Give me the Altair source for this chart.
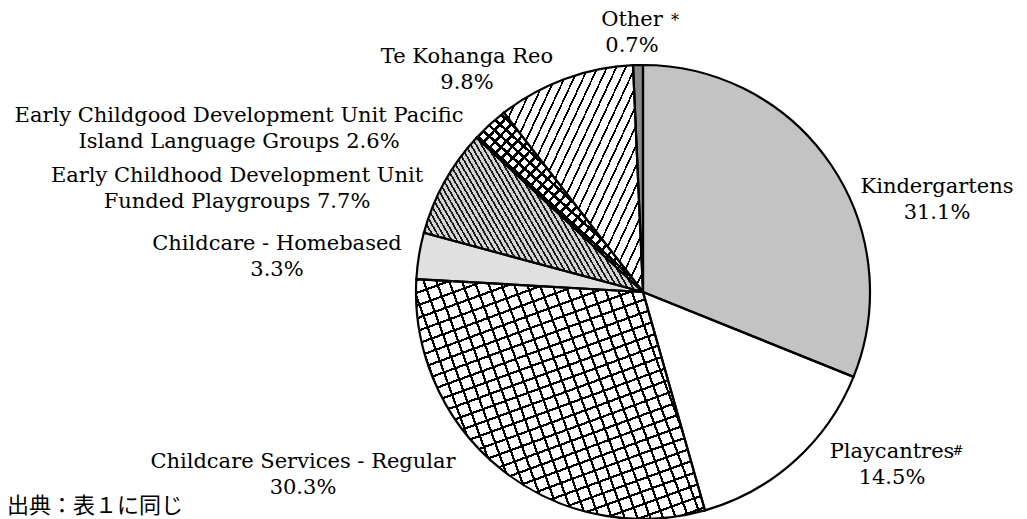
import math
import altair as alt
import pandas as pd

# ---- data ----
categories = ["Kindergartens", "Playcantres", "Childcare Services - Regular",
              "Childcare - Homebased", "Early Childhood Development Unit Funded Playgroups",
              "Early Childgood Development Unit Pacific Island Language Groups",
              "Te Kohanga Reo", "Other"]
values = [31.1, 14.5, 30.3, 3.3, 7.7, 2.6, 9.8, 0.7]
label_templates = ["Kindergartens\n{}", "Playcantres\n{}", "Childcare Services - Regular\n{}",
                   "Childcare - Homebased\n{}", "Early Childhood Development Unit\nFunded Playgroups {}",
                   "Early Childgood Development Unit Pacific\nIsland Language Groups {}",
                   "Te Kohanga Reo\n{}", "Other\n{}"]
source_note = "出典：表１に同じ"

# ---- layout / style (plot coordinates) ----
CX, CY, R = 635, 284, 227
label_x = [929, 884, 295, 269, 229, 231, 459, 624]
label_y = [185, 450, 460, 242, 174, 114, 55, 18]
FONT = "DejaVu Serif"

df = pd.DataFrame({"category": categories, "value": values, "idx": list(range(len(values)))})
total = sum(values)


def wedge_bbox(i):
    a0 = sum(values[:i]) / total * 2 * math.pi
    a1 = sum(values[:i + 1]) / total * 2 * math.pi
    angs = [a0, a1] + [k * math.pi / 2 for k in range(5) if a0 < k * math.pi / 2 < a1]
    xs = [0] + [R * math.sin(t) for t in angs]
    ys = [0] + [-R * math.cos(t) for t in angs]
    return max(xs) - min(xs), max(ys) - min(ys)


def stripes(i, alpha_deg, period, thick, ink="black", bg="white"):
    w, h = wedge_bbox(i)
    a = math.radians(alpha_deg)
    nx, ny = math.sin(a), math.cos(a)
    D = abs(nx) * w + abs(ny) * h
    k = D / (nx * nx * w * w + ny * ny * h * h)
    x1 = 0 if nx >= 0 else 1
    y1 = 0 if ny >= 0 else 1
    x2 = x1 + k * nx * w
    y2 = y1 + k * ny * h
    n = D / period
    stops = []
    j = 0
    while True:
        o0 = j / n
        if o0 >= 1:
            break
        o1 = min((j + thick / period) / n, 1)
        o2 = min((j + 1) / n, 1)
        stops += [{"offset": o0, "color": ink}, {"offset": o1, "color": ink},
                  {"offset": o1, "color": bg}, {"offset": o2, "color": bg}]
        j += 1
    return {"gradient": "linear", "x1": x1, "y1": y1, "x2": x2, "y2": y2, "stops": stops}


CLEAR = "rgba(255,255,255,0)"
fills = {
    0: "#c3c3c3",
    1: "white",
    2: stripes(2, -70, 12, 2.2),
    3: "#e0e0e0",
    4: stripes(4, -60, 4.6, 1.7, ink="#1a1a1a", bg="#d4d4d4"),
    5: stripes(5, -42.5, 8, 2.6),
    6: stripes(6, 65, 8.5, 1.7),
    7: "#8a8a8a",
}
overlays = {
    2: stripes(2, 20, 12, 2.2, bg=CLEAR),
    5: stripes(5, 47.5, 8, 2.6, bg=CLEAR),
}

base = alt.Chart(df).transform_window(
    cum="sum(value)", sort=[alt.SortField("idx")], frame=[None, 0]
).transform_calculate(start="datum.cum - datum.value")

theta_enc = dict(
    theta=alt.Theta("start:Q", scale=alt.Scale(domain=[0, total])),
    theta2=alt.Theta2("cum:Q"),
    x=alt.value(CX),
    y=alt.value(CY),
)

layers = []
for i, f in fills.items():
    layers.append(base.transform_filter(alt.datum.idx == i)
                  .mark_arc(radius=R, fill=f, strokeWidth=0).encode(**theta_enc))
for i, f in overlays.items():
    layers.append(base.transform_filter(alt.datum.idx == i)
                  .mark_arc(radius=R, fill=f, strokeWidth=0).encode(**theta_enc))
layers.append(base.mark_arc(radius=R, fillOpacity=0, stroke="black", strokeWidth=2.2,
                            strokeJoin="miter").encode(**theta_enc))

lab = pd.DataFrame({
    "text": [t.format(f"{v:.1f}%") for t, v in zip(label_templates, values)],
    "lx": label_x,
    "ly": label_y,
})
layers.append(alt.Chart(lab).mark_text(
    font=FONT, fontSize=21, lineBreak="\n", lineHeight=26, align="center",
    baseline="alphabetic", color="black"
).encode(x=alt.X("lx:Q", scale=None, axis=None), y=alt.Y("ly:Q", scale=None, axis=None),
         text="text:N"))

marks = pd.DataFrame({"text": ["#", "*"], "lx": [950, 667], "ly": [447, 18], "sz": [13, 16]})
layers.append(alt.Chart(marks).mark_text(font=FONT, align="center", baseline="alphabetic",
                                         color="black")
              .encode(x=alt.X("lx:Q", scale=None, axis=None), y=alt.Y("ly:Q", scale=None, axis=None),
                      text="text:N", size=alt.Size("sz:Q", scale=None, legend=None)))

src = pd.DataFrame({"text": [source_note], "lx": [-1], "ly": [505]})
layers.append(alt.Chart(src).mark_text(font="Noto Sans CJK JP", fontSize=22, align="left",
                                       baseline="alphabetic", color="black")
              .encode(x=alt.X("lx:Q", scale=None, axis=None), y=alt.Y("ly:Q", scale=None, axis=None),
                      text="text:N"))

chart = alt.layer(*layers).properties(
    width=1011, height=511, padding=0,
    autosize=alt.AutoSizeParams(type="none"),
    background="white",
).configure_view(stroke=None)

chart.save("out.html", embed_options={"renderer": "svg", "actions": False})
